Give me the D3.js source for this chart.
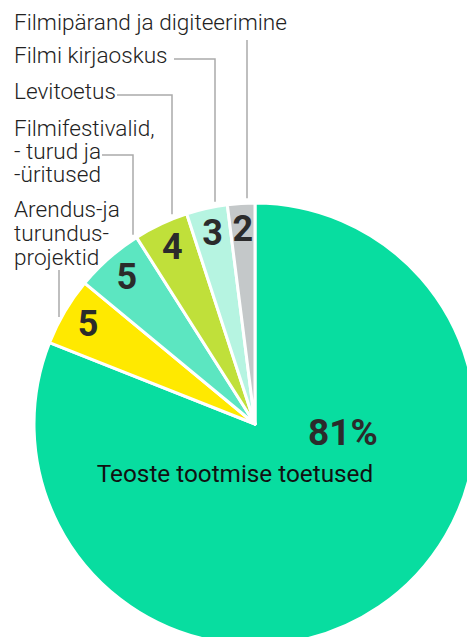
<!DOCTYPE html>
<html>
<head>
<meta charset="utf-8">
<script src="https://cdn.jsdelivr.net/npm/d3@7"></script>
<style>
  html, body { margin: 0; padding: 0; background: #fff; overflow: hidden; }
  svg { display: block; font-family: Roboto, "Noto Sans", sans-serif; }
</style>
</head>
<body>
<script>
var width = 467,
    height = 637,
    cx = 255,
    cy = 424,
    radius = 221;

// data, clockwise from 12 o'clock
var categories = ["Teoste tootmise toetused", "Arendus-ja turundusprojektid",
    "Filmifestivalid, - turud ja -üritused", "Levitoetus", "Filmi kirjaoskus",
    "Filmipärand ja digiteerimine"];
var values = [81, 5, 5, 4, 3, 2];
var colors = ["#08dda0", "#ffe900", "#5ce6c1", "#c0e03a", "#b6f4e1", "#c4c8c9"];

// outside label text lines + leader layout (index into categories)
var labelLines = [
    null,
    ["Arendus-ja", "turundus-", "projektid"],
    ["Filmifestivalid,", "- turud ja", "-üritused"],
    ["Levitoetus"],
    ["Filmi kirjaoskus"],
    ["Filmipärand ja digiteerimine"]
];
var labelLayout = [
    null,
    {y: 217, lh: 24, x0: null, x1: 59, ly: 270},
    {y: 136, lh: 23, x0: 102, x1: 133, ly: 155},
    {y: 99, lh: 0, x0: 117, x1: 172, ly: 95},
    {y: 63, lh: 0, x0: 174, x1: 215, ly: 59},
    {y: 30, lh: 0, x0: null, x1: 247, ly: 40}
];

var svg = d3.select("body").append("svg")
    .attr("width", width)
    .attr("height", height);

var pie = d3.pie()
    .sort(null)
    .value(function(d) { return d; });

var arc = d3.arc()
    .innerRadius(0)
    .outerRadius(radius);

var labelArc = d3.arc()
    .innerRadius(194)
    .outerRadius(194);

var arcs = pie(values);

var g = svg.append("g")
    .attr("transform", "translate(" + cx + "," + cy + ")");

g.selectAll(".slice")
    .data(arcs)
    .enter().append("path")
    .attr("class", "slice")
    .attr("d", arc)
    .attr("fill", function(d, i) { return colors[i]; })
    .attr("stroke", "#fff")
    .attr("stroke-width", 3)
    .attr("stroke-linejoin", "round");

// numbers inside small slices
g.selectAll(".num")
    .data(arcs.slice(1))
    .enter().append("text")
    .attr("class", "num")
    .attr("transform", function(d) { return "translate(" + labelArc.centroid(d) + ")"; })
    .attr("dy", "0.3em")
    .attr("text-anchor", "middle")
    .style("font-size", "36px")
    .style("font-weight", 700)
    .style("fill", "#2b2b2b")
    .text(function(d) { return d.value; });

// big slice labels
svg.append("text")
    .attr("x", 343)
    .attr("y", 445)
    .attr("text-anchor", "middle")
    .style("font-size", "37px")
    .style("font-weight", 700)
    .style("fill", "#2b2b2b")
    .text(values[0] + "%");

svg.append("text")
    .attr("x", 235)
    .attr("y", 482)
    .attr("text-anchor", "middle")
    .style("font-size", "24.3px")
    .style("fill", "#111")
    .text(categories[0]);

// outside labels with leader lines
labelLines.forEach(function(lines, i) {
    if (!lines) return;
    var L = labelLayout[i];
    var t = svg.append("text")
        .attr("x", 14)
        .attr("y", L.y)
        .style("font-size", "22.6px")
        .style("font-weight", 300)
        .style("fill", "#222");
    lines.forEach(function(s, j) {
        t.append("tspan").attr("x", 14).attr("y", L.y + j * L.lh).text(s);
    });

    var dx = L.x1 - cx;
    var yEnd = cy - Math.sqrt(radius * radius - dx * dx) - 5;
    var pts = [];
    if (L.x0 !== null) pts.push([L.x0, L.ly]);
    pts.push([L.x1, L.ly]);
    pts.push([L.x1, yEnd]);
    svg.append("path")
        .attr("d", d3.line()(pts))
        .attr("fill", "none")
        .attr("stroke", "#aaa")
        .attr("stroke-width", 1.5);
});
</script>
</body>
</html>
